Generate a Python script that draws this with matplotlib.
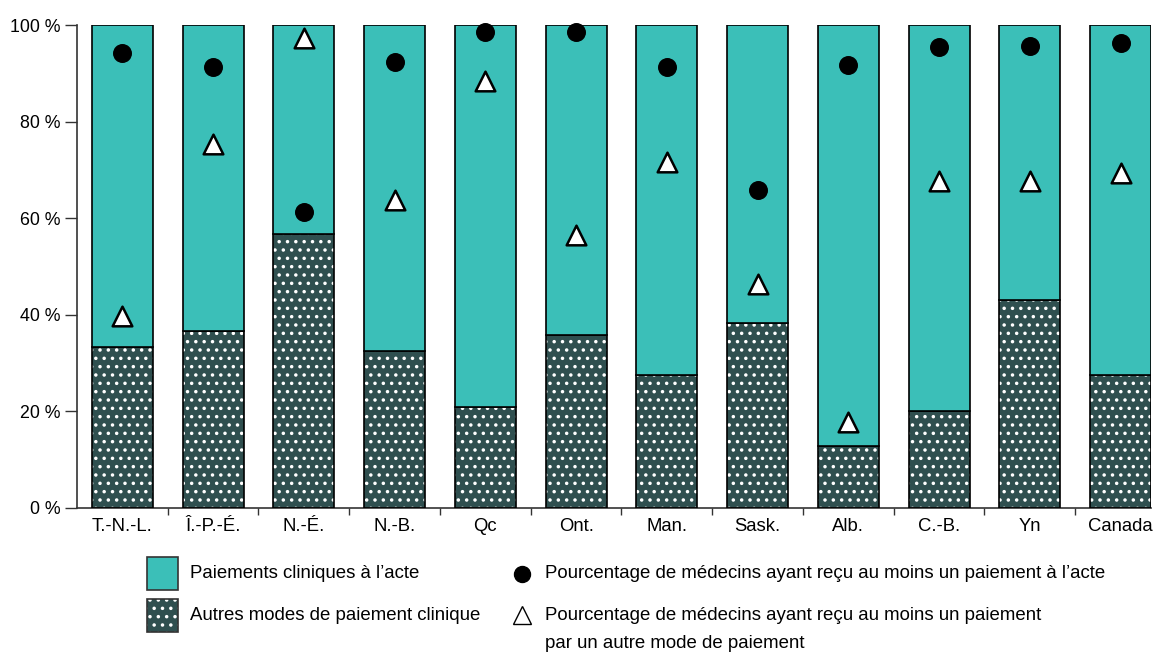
import matplotlib
matplotlib.use("Agg")
import matplotlib.pyplot as plt
from matplotlib.patches import Rectangle
from matplotlib.lines import Line2D
import numpy as np

categories = ["T.-N.-L.", "Î.-P.-É.", "N.-É.", "N.-B.", "Qc", "Ont.", "Man.", "Sask.", "Alb.", "C.-B.", "Yn", "Canada"]
autres = [33.3, 36.6, 56.7, 32.5, 20.9, 35.8, 27.5, 38.3, 12.8, 20.1, 43.1, 27.5]
acte = [100 - v for v in autres]
pct_acte = [94.2, 91.3, 61.3, 92.3, 98.6, 98.6, 91.3, 65.8, 91.7, 95.4, 95.7, 96.3]
pct_autre = [39.8, 75.4, 97.3, 63.8, 88.4, 56.5, 71.6, 46.4, 17.8, 67.7, 67.7, 69.4]
yticks = [0, 20, 40, 60, 80, 100]
ytick_labels = ["0 %", "20 %", "40 %", "60 %", "80 %", "100 %"]
legend_labels = ["Paiements cliniques à l\u2019acte",
                 "Autres modes de paiement clinique",
                 "Pourcentage de médecins ayant reçu au moins un paiement à l\u2019acte",
                 "Pourcentage de médecins ayant reçu au moins un paiement\npar un autre mode de paiement"]

TEAL = "#3bbfb8"
DARK = "#2f4f4f"

plt.rcParams["font.family"] = ["Liberation Sans", "DejaVu Sans"]
plt.rcParams["hatch.linewidth"] = 1.3

W, H = 1159, 653
fig = plt.figure(figsize=(W / 100, H / 100), dpi=100)
ax = fig.add_axes([77 / W, 1 - 508 / H, (1151 - 77) / W, (508 - 25) / H])

x = np.arange(len(categories))
bw = 0.67
# hatched lower segment (white dots on dark)
ax.bar(x, autres, bw, color=DARK, edgecolor="white", hatch="..", linewidth=0, zorder=2)
ax.bar(x, autres, bw, facecolor="none", edgecolor="black", linewidth=1.2, zorder=3)
ax.bar(x, acte, bw, bottom=autres, color=TEAL, edgecolor="black", linewidth=1.2, zorder=3)

ax.scatter(x, pct_acte, s=160, marker="o", color="black", zorder=5, clip_on=False)
ax.scatter(x, pct_autre, s=200, marker="^", facecolor="white", edgecolor="black", linewidth=1.8, zorder=5, clip_on=False)

ax.set_xlim(-0.5, len(categories) - 1 + bw / 2)
ax.set_ylim(0, 100)
ax.set_yticks(yticks)
ax.set_yticklabels(ytick_labels, fontsize=12.8)
ax.set_xticks(x)
ax.set_xticklabels(categories, fontsize=13.3)
ax.tick_params(axis="x", which="major", length=0, pad=7)
ax.set_xticks(x[:-1] + 0.5, minor=True)
ax.tick_params(axis="x", which="minor", length=5, width=1, color="#333333", direction="out")
ax.tick_params(axis="y", length=9, width=1, color="#333333", pad=3)
for s in ["top", "right"]:
    ax.spines[s].set_visible(False)
for s in ["left", "bottom"]:
    ax.spines[s].set_color("#333333")
    ax.spines[s].set_linewidth(1.2)

# manual legend
fs = 13.4
fig.patches.append(Rectangle((147 / W, 1 - 590 / H), 31 / W, 33 / H, transform=fig.transFigure,
                             facecolor=TEAL, edgecolor="#333333", linewidth=1.2))
fig.patches.append(Rectangle((147 / W, 1 - 632 / H), 31 / W, 33 / H, transform=fig.transFigure,
                             facecolor=DARK, edgecolor="white", hatch="..", linewidth=0))
fig.patches.append(Rectangle((147 / W, 1 - 632 / H), 31 / W, 33 / H, transform=fig.transFigure,
                             facecolor="none", edgecolor="#333333", linewidth=1.2))
fig.text(190 / W, 1 - 574 / H, legend_labels[0], fontsize=fs, va="center", ha="left")
fig.text(190 / W, 1 - 615 / H, legend_labels[1], fontsize=fs, va="center", ha="left")
fig.lines.append(Line2D([522 / W], [1 - 574 / H], transform=fig.transFigure, marker="o",
                        markersize=11.5, color="black", linestyle="none"))
fig.lines.append(Line2D([522 / W], [1 - 615 / H], transform=fig.transFigure, marker="^",
                        markersize=12.5, markerfacecolor="white", markeredgecolor="black",
                        markeredgewidth=1.0, linestyle="none"))
fig.text(545 / W, 1 - 574 / H, legend_labels[2], fontsize=fs, va="center", ha="left")
fig.text(545 / W, 1 - 615 / H, legend_labels[3].split("\n")[0], fontsize=fs, va="center", ha="left")
fig.text(545 / W, 1 - 643 / H, legend_labels[3].split("\n")[1], fontsize=fs, va="center", ha="left")

fig.savefig("out.png", dpi=100)
